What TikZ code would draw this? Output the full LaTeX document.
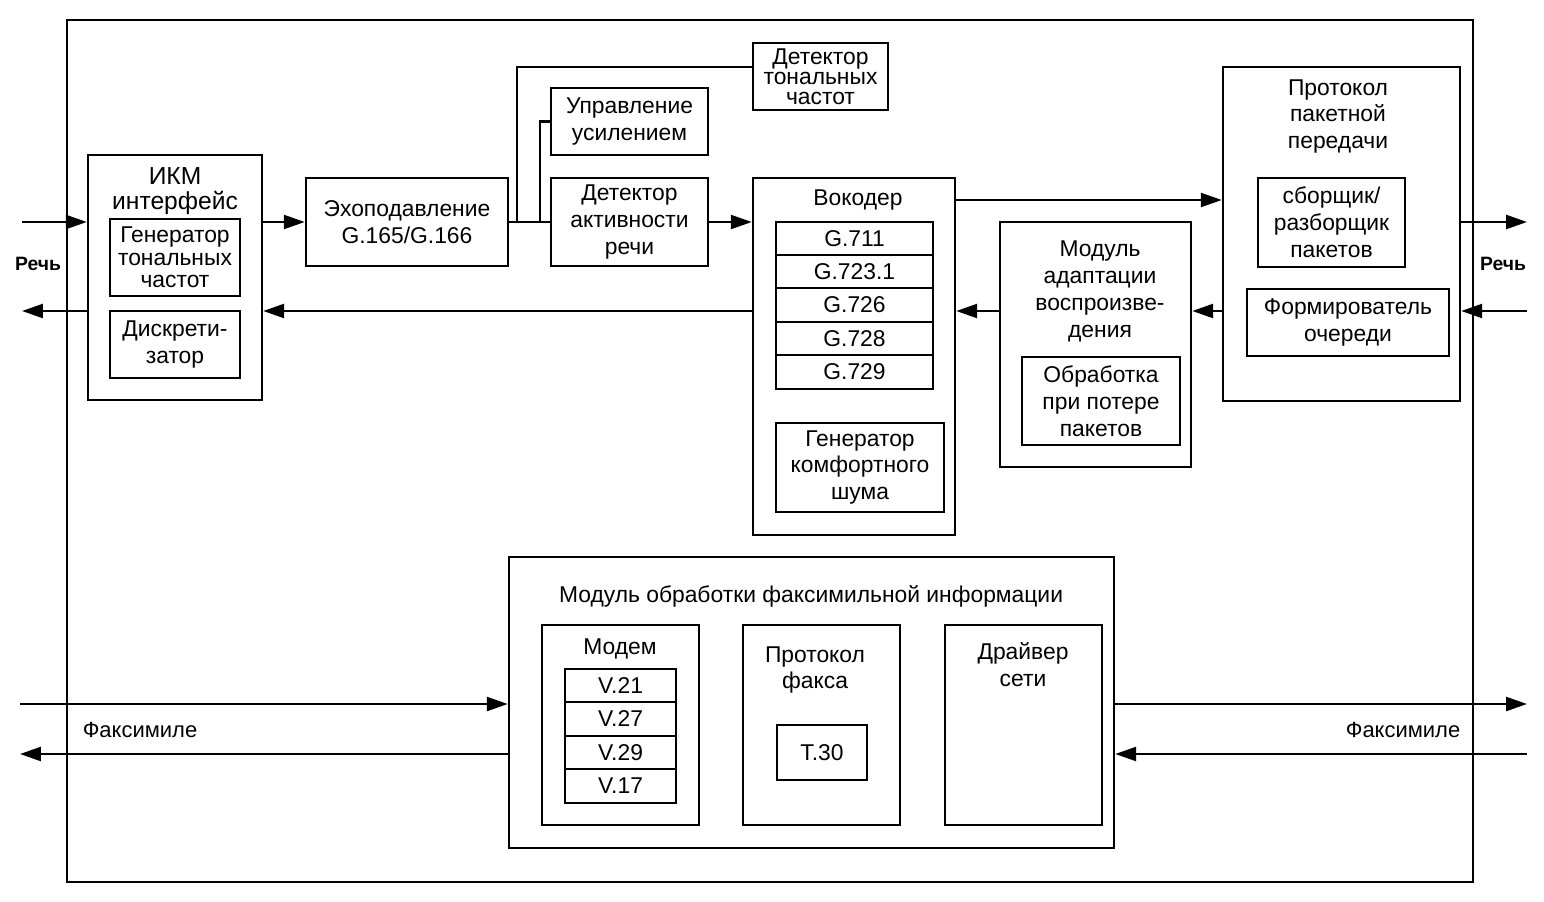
\documentclass[tikz,border=0pt]{standalone}
\usepackage{fontspec}
\setmainfont{Liberation Sans}
\usetikzlibrary{arrows.meta,calc}
\newcommand{\bxt}[7][]{%
  \node[box, #1, minimum width={(#5-#3)*0.02cm}, minimum height={(#6-#4)*0.02cm}]
    (#2) at ({(#3+#5)/2},{(#4+#6)/2}) {#7};}
\begin{document}
\begin{tikzpicture}[x=0.02cm,y=-0.02cm,
  box/.style={draw, line width=1.4pt, inner sep=0pt, align=center, font=\fontsize{13}{15.3}\selectfont},
  arr/.style={line width=1.4pt, -{Triangle[length=0.42cm,width=0.28cm]}},
  ln/.style={line width=1.4pt},
  txt/.style={align=center, inner sep=0pt, yshift=-0.06cm, font=\fontsize{13}{15.3}\selectfont},
  lbl/.style={inner sep=0pt, font=\fontsize{11}{13}\selectfont\bfseries},
  flbl/.style={inner sep=0pt, font=\fontsize{12.5}{14}\selectfont},
]
\useasboundingbox (0,0) rectangle (1544,902);
% outer frame
\bxt[line width=1.2pt]{frame}{67}{20}{1473}{882}{}

% PCM interface
\bxt{ikm}{88}{155}{262}{400}{}
\node[txt, font=\fontsize{14}{14.2}\selectfont] (ikmT) at (175,188.5) {ИКМ\\интерфейс};
\bxt[font=\fontsize{13}{12.8}\selectfont]{gen}{110}{219}{240}{296}{Генератор\\тональных\\частот}
\bxt{disc}{110}{311}{240}{378}{Дискрети-\\затор}

% echo, AGC, VAD, DTMF
\bxt{echo}{306}{178}{508}{266}{Эхоподавление\\G.165/G.166}
\bxt{agc}{551}{88}{708}{155}{Управление\\усилением}
\bxt{vad}{551}{178}{708}{266}{Детектор\\активности\\речи}
\bxt[font=\fontsize{13}{11.5}\selectfont]{dtmf}{753}{43}{888}{110}{Детектор\\тональных\\частот}

% vocoder
\bxt{voc}{753}{178}{955}{535}{}
\node[txt] (vocT) at (858,197) {Вокодер};
\bxt{g1}{776}{222}{933}{255}{G.711}
\bxt{g2}{776}{255}{933}{288}{G.723.1}
\bxt{g3}{776}{288}{933}{322}{G.726}
\bxt{g4}{776}{322}{933}{355}{G.728}
\bxt{g5}{776}{355}{933}{389}{G.729}
\bxt{cng}{776}{423}{944}{512}{Генератор\\комфортного\\шума}

% jitter / playout module
\bxt{jit}{1000}{222}{1191}{467}{}
\node[txt] (jitT) at (1100,288.5) {Модуль\\адаптации\\воспроизве-\\дения};
\bxt{plc}{1022}{357}{1180}{445}{Обработка\\при потере\\пакетов}

% packet protocol
\bxt{pkt}{1223}{67}{1460}{401}{}
\node[txt] (pktT) at (1338,113.5) {Протокол\\пакетной\\передачи};
\bxt{asm}{1258}{178}{1405}{267}{сборщик/\\разборщик\\пакетов}
\bxt{que}{1247}{289}{1449}{356}{Формирователь\\очереди}

% fax module
\bxt{fax}{509}{557}{1114}{848}{}
\node[txt] (faxT) at (811,593) {Модуль обработки факсимильной информации};
\bxt{mod}{542}{625}{699}{825}{}
\node[txt] (modT) at (620,646) {Модем};
\bxt{v1}{565}{669}{676}{702}{V.21}
\bxt{v2}{565}{702}{676}{736}{V.27}
\bxt{v3}{565}{736}{676}{769}{V.29}
\bxt{v4}{565}{769}{676}{803}{V.17}
\bxt{fpr}{743}{625}{900}{825}{}
\node[txt] (fprT) at (815,667) {Протокол\\факса};
\bxt{t30}{777}{725}{867}{780}{T.30}
\bxt{drv}{945}{625}{1102}{825}{}
\node[txt] (drvT) at (1023,661.5) {Драйвер\\сети};

% labels
\node[lbl] (rechL) at (38,264) {Речь};
\node[lbl] (rechR) at (1503,264) {Речь};
\node[flbl] (faxL) at (140,730) {Факсимиле};
\node[flbl] (faxR) at (1403,730) {Факсимиле};

% connectors: voice path
\coordinate (lIn) at (22,222);
\coordinate (lOut) at (22,311);
\coordinate (rOut) at (1527,222);
\coordinate (rIn) at (1527,311);
\coordinate (y200) at (0,200);
\coordinate (y311) at (0,311);
\draw[arr] (lIn) -- (lIn -| ikm.west);
\draw[arr] (lOut -| ikm.west) -- (lOut);
\draw[arr] (ikm.east |- echo.west) -- (echo.west);
\draw[ln] (echo.east) -- (vad.west);
\coordinate (b1) at (517,222);
\coordinate (b1top) at (517,67);
\draw[ln] (b1) -- (b1top) -- (b1top -| dtmf.west);
\coordinate (b2) at (540,222);
\draw[ln] (b2) |- (agc.west);
\draw[arr] (vad.east) -- (voc.west |- vad.east);
\draw[arr] (voc.east |- y200) -- (pkt.west |- y200);
\draw[arr] (pkt.west |- y311) -- (jit.east |- y311);
\draw[arr] (jit.west |- y311) -- (voc.east |- y311);
\draw[arr] (voc.west |- y311) -- (ikm.east |- y311);
\draw[arr] (pkt.east |- rOut) -- (rOut);
\draw[arr] (rIn) -- (rIn -| pkt.east);

% connectors: fax path
\coordinate (fl1) at (20,704);
\coordinate (fl2) at (20,754);
\coordinate (fr1) at (1527,704);
\coordinate (fr2) at (1527,754);
\draw[arr] (fl1) -- (fl1 -| fax.west);
\draw[arr] (fl2 -| fax.west) -- (fl2);
\draw[arr] (fax.east |- fr1) -- (fr1);
\draw[arr] (fr2) -- (fr2 -| fax.east);
\end{tikzpicture}
\end{document}
